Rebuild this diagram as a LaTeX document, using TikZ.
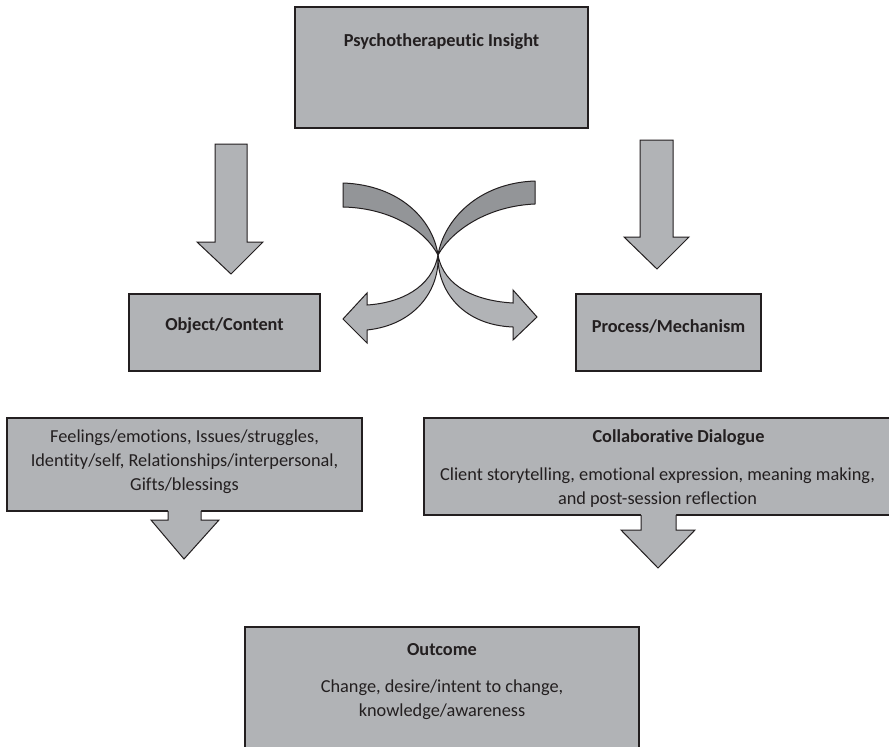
\documentclass[tikz,border=0pt]{standalone}
\usepackage{fontspec}
\setmainfont{Carlito}[Ligatures=NoCommon]
\definecolor{boxgray}{HTML}{B1B3B6}
\definecolor{darkgray2}{HTML}{939598}
\definecolor{ink}{HTML}{231F20}
\begin{document}
\begin{tikzpicture}[x=1pt,y=-1pt,
  box/.style={draw=ink, line width=1.3pt, fill=boxgray, rectangle, inner sep=0pt},
  blockarrow/.style={draw=ink, line width=1pt, fill=boxgray, line join=miter},
  ribbon/.style={draw=ink, line width=1pt, fill=darkgray2, line join=round},
  ribbonlight/.style={draw=ink, line width=1pt, fill=boxgray, line join=miter},
  ttl/.style={text=ink, font=\fontsize{18.3}{22}\selectfont\bfseries, inner sep=0pt},
  txt/.style={text=ink, font=\fontsize{18.3}{24}\selectfont, align=center, inner sep=0pt}]
\clip (0,0) rectangle (889,747);
\fill[white] (0,0) rectangle (889,747);

% boxes
\node[box, minimum width=293pt, minimum height=121pt] (insight) at (441.5,67.5) {};
\node[ttl] (insightT) at (441.5,42) {Psychotherapeutic Insight};

\node[box, minimum width=191pt, minimum height=77pt] (object) at (224.5,332.5) {};
\node[ttl] (objectT) at (224.5,326) {Object/Content};

\node[box, minimum width=185pt, minimum height=77pt] (process) at (668.5,332.5) {};
\node[ttl] (processT) at (668.5,326) {Process/Mechanism};

\node[box, minimum width=355pt, minimum height=93pt] (feel) at (184.5,464.5) {};
\node[txt] (feelT) at (184.5,461.5) {Feelings/emotions, Issues/struggles,\\Identity/self, Relationships/interpersonal,\\Gifts/blessings};

\node[box, minimum width=490pt, minimum height=97pt] (collab) at (669,466.5) {};
\node[ttl] (collabT) at (678.5,438) {Collaborative Dialogue};
\node[txt] (collabX) at (657.5,488) {Client storytelling, emotional expression, meaning making,\\and post-session reflection};

\node[box, minimum width=394pt, minimum height=160pt] (outcome) at (442,707) {};
\node[ttl] (outcomeT) at (442,650) {Outcome};
\node[txt] (outcomeX) at (442,699.5) {Change, desire/intent to change,\\knowledge/awareness};

% straight block arrows from the top box
\draw[blockarrow] (215,144) -- (247,144) -- (247,242) -- (263,242) -- (231,274) -- (197,242) -- (215,242) -- cycle;
\draw[blockarrow] (640,140) -- (673,140) -- (673,237) -- (689,237) -- (657,269) -- (624,237) -- (640,237) -- cycle;

% block arrows below the text boxes
\fill[boxgray] (168,509) -- (201,509) -- (201,520) -- (219,520) -- (184,559) -- (151,520) -- (168,520) -- cycle;
\draw[ink, line width=1pt, line join=miter] (168,511) -- (168,520) -- (151,520) -- (184,559) -- (219,520) -- (201,520) -- (201,511);
\fill[boxgray] (641,513) -- (676,513) -- (676,530) -- (695,530) -- (658,568) -- (621,530) -- (641,530) -- cycle;
\draw[ink, line width=1pt, line join=miter] (641,515) -- (641,530) -- (621,530) -- (658,568) -- (695,530) -- (676,530) -- (676,515);

% crossing curved arrows
\coordinate (cross) at (438,255);
\draw[ribbon] (343,183) .. controls (400,185) and (433,220) .. (cross)
  .. controls (425,230) and (390,208) .. (343,207) -- cycle;
\draw[ribbon] (535,181) .. controls (478,183) and (444,220) .. (cross)
  .. controls (452,230) and (488,206) .. (535,204) -- cycle;
\draw[ribbonlight] (cross) .. controls (440,290) and (415,325) .. (367,330)
  -- (367,343) -- (343,319) -- (367,293) -- (367,305)
  .. controls (400,303) and (432,288) .. (cross) -- cycle;
\draw[ribbonlight] (cross) .. controls (437,290) and (462,325) .. (513,327)
  -- (513,340) -- (537,317) -- (513,290) -- (513,303)
  .. controls (478,301) and (444,288) .. (cross) -- cycle;
\end{tikzpicture}
\end{document}
